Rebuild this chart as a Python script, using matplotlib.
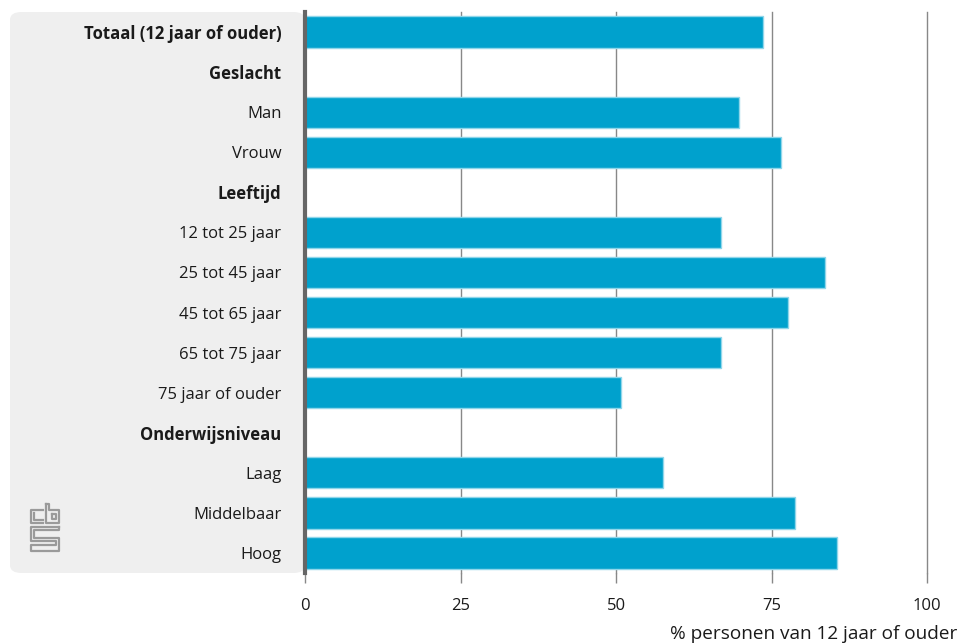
import matplotlib.pyplot as plt
from matplotlib.patches import FancyBboxPatch
from matplotlib.lines import Line2D

labels = ["Totaal (12 jaar of ouder)", "Geslacht", "Man", "Vrouw", "Leeftijd",
          "12 tot 25 jaar", "25 tot 45 jaar", "45 tot 65 jaar", "65 tot 75 jaar",
          "75 jaar of ouder", "Onderwijsniveau", "Laag", "Middelbaar", "Hoog"]
values = [73.7, None, 69.8, 76.6, None, 66.9, 83.6, 77.7, 66.9, 50.8, None, 57.6, 78.8, 85.5]
bold = [True, True, False, False, True, False, False, False, False, False, True, False, False, False]
ticks = [0, 25, 50, 75, 100]
xlabel = "% personen van 12 jaar of ouder"

plt.rcParams['font.family'] = ['Open Sans', 'DejaVu Sans']

W, H = 961, 644
fig = plt.figure(figsize=(W / 100, H / 100), dpi=100)

# grijs paneel achter de labels
panel = FancyBboxPatch((10 / W, 1 - 573 / H), (305 - 10) / W, (573 - 12) / H,
                       boxstyle="round,pad=0,rounding_size=0.012",
                       transform=fig.transFigure, facecolor="#efefef",
                       edgecolor="none", zorder=0)
fig.patches.append(panel)

ax = fig.add_axes([305 / W, 1 - 573 / H, (927 - 305) / W, (573 - 12) / H])
ax.set_zorder(2)
ax.patch.set_alpha(0)

n = len(labels)
ypos = list(range(n))
for i, v in enumerate(values):
    if v is not None:
        ax.barh(i, v, height=0.78, color="#00a1cd", edgecolor="#8fd6ea",
                linewidth=1, zorder=3)

ax.set_ylim(n - 0.5, -0.5)
ax.set_xlim(0, 100)
ax.set_yticks(ypos)
ax.set_yticklabels(labels)
for t, b in zip(ax.get_yticklabels(), bold):
    t.set_fontweight("bold" if b else "normal")
    t.set_fontsize(12)
    t.set_color("#1a1a1a")
ax.tick_params(axis="y", length=0, pad=17)

ax.set_xticks(ticks)
ax.set_xticklabels([str(t) for t in ticks], fontsize=12, color="#1a1a1a")
ax.tick_params(axis="x", length=7, color="#888888", width=1, pad=11)
ax.grid(axis="x", color="#888888", linewidth=1, zorder=1)
for gl in ax.get_xgridlines():
    gl.set_clip_on(False)
ax.set_axisbelow(True)

for s in ["top", "right", "bottom"]:
    ax.spines[s].set_visible(False)
ax.spines["left"].set_color("#666666")
ax.spines["left"].set_linewidth(3)
ax.spines["left"].set_zorder(4)

fig.text(957 / W, 1 - 634 / H, xlabel, ha="right", va="center",
         fontsize=13.7, color="#1a1a1a")

# cbs logo (vereenvoudigd)
def px(pts):
    return [p[0] / W for p in pts], [1 - p[1] / H for p in pts]

logo = [
    [(43, 510), (31, 510), (31, 523), (43, 523)],
    [(34, 513), (34, 520), (43, 520)],
    [(46, 504), (46, 523), (59, 523), (59, 510), (49, 510), (49, 504), (46, 504)],
    [(52, 514), (56, 514), (56, 519), (52, 519), (52, 514)],
    [(59, 527), (31, 527), (31, 541), (56, 541), (56, 545), (31, 545), (31, 551),
     (59, 551), (59, 538), (34, 538), (34, 530), (59, 530), (59, 527)],
]
for pts in logo:
    xs, ys = px(pts)
    fig.add_artist(Line2D(xs, ys, transform=fig.transFigure, color="#9a9a9a",
                          linewidth=1.6))

fig.savefig("out.png", dpi=100)
